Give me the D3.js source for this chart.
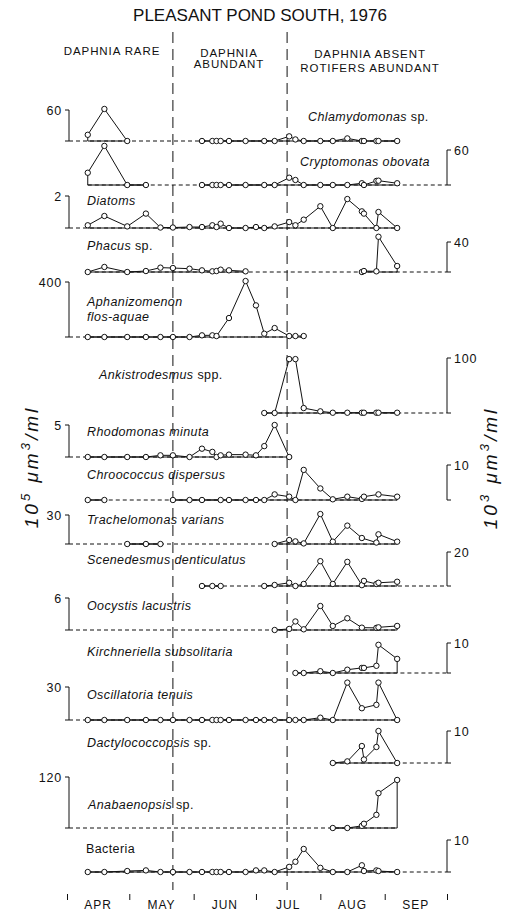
<!DOCTYPE html>
<html><head><meta charset="utf-8">
<script src="https://cdn.jsdelivr.net/npm/d3@7"></script>
<style>
body{margin:0;background:#fff}
svg{display:block}
text{font-family:"Liberation Sans",Arial,sans-serif;fill:#111}
</style>
</head><body>
<svg id="chart" width="505" height="913"></svg>
<script>
// ---------- DATA ----------
const title = "PLEASANT POND SOUTH, 1976";
const sampleDates = ["1976-04-11","1976-04-19","1976-04-30","1976-05-09","1976-05-16","1976-05-22","1976-05-30",
  "1976-06-05","1976-06-10","1976-06-12","1976-06-14","1976-06-18","1976-06-26","1976-07-01","1976-07-05",
  "1976-07-10","1976-07-17","1976-07-20","1976-07-24","1976-08-01","1976-08-07","1976-08-14","1976-08-21",
  "1976-08-22","1976-08-28","1976-08-29","1976-09-07"];
const monthLabels = ["APR","MAY","JUN","JUL","AUG","SEP"];
const monthStarts = ["1976-04-01","1976-05-01","1976-06-01","1976-07-01","1976-08-01","1976-09-01","1976-10-01"];
const phaseBreaks = ["1976-05-22","1976-07-16"];
const phaseLabels = [["DAPHNIA RARE"],["DAPHNIA","ABUNDANT"],["DAPHNIA ABSENT","ROTIFERS ABUNDANT"]];
const leftAxisLabel = ["10","5"," μm","3","/ml"];
const rightAxisLabel = ["10","3"," μm","3","/ml"];
const N = null;
// values per sample date (null = not sampled)
const chlamydomonas   = [12,62,0,N,N,N,N,0,0,0,0,0,0,N,0,0,9,3,0,0,0,5,0,0,0,0,0];
const cryptomonas     = [21,67,0,0,N,N,N,0,0,0,0,0,0,N,0,0,12.5,8.6,0,0,0,0,3,0,7,7.4,3];
const diatoms         = [0.17,0.75,0.1,0.9,0.03,0.03,0.06,0.06,0.17,0.06,0.27,0,0,0.06,0,0.1,0.37,0.17,0.52,1.36,0,1.81,1.04,0.9,0,1.0,0];
const phacus          = [0,6.7,0,1.3,5.8,5.3,4.4,2.2,0.9,1.3,3.1,2.2,0.9,N,N,N,N,N,N,N,N,N,0,1.3,0.9,47,8];
const aphanizomenon   = [0,0,0,0,0,0,0,12,12,7,N,138,407,230,24,65,7,7,7,N,N,N,N,N,N,N,N];
const ankistrodesmus  = [N,N,N,N,N,N,N,N,N,N,N,N,N,N,0,0,98,98,9,3,0.5,0.5,0.5,0.5,0.5,0.5,0.5];
const rhodomonas      = [0,0,0,0,0.26,0.26,0,1.3,0.8,0,0.26,0.37,0.37,0.26,1.7,5.0,0,N,N,N,N,N,N,N,N,N,N];
const chroococcus     = [0,0,N,N,N,0,0,0,N,N,0,0,0,0,0,1.6,0.95,0,8.6,3.3,0.2,0.95,0.3,0.95,N,1.6,0.95];
const trachelomonas   = [N,N,0,0,0,N,N,N,N,N,N,N,N,N,N,0,4.1,2.7,0.6,31,2.4,19,6.2,N,1.5,10,2.4];
const scenedesmus     = [N,N,N,N,N,N,N,0,0,N,0,N,N,N,0,0.6,1.9,0,1.2,14.6,1.2,14.2,0.5,3,1.2,1.9,2.5];
const oocystis        = [N,N,N,N,N,N,N,N,N,N,N,N,N,N,N,0,0.2,1.6,0.13,4.5,0.76,2.2,0.44,N,0.4,0.5,0.76];
const kirchneriella   = [N,N,N,N,N,N,N,N,N,N,N,N,N,N,N,N,N,0,0,0.6,0,1.1,1.7,1.7,2.4,9.4,4.7];
const oscillatoria    = [0,0,0,0,0,0,0,0,0,0,0,0,0,0,0,0,0,0,0,2.1,0,34,10.7,N,13.8,34,0];
const dactylococcopsis= [N,N,N,N,N,N,N,N,N,N,N,N,N,N,N,N,N,N,N,N,0,0.5,5.3,1.1,5.0,10,0];
const anabaenopsis    = [N,N,N,N,N,N,N,N,N,N,N,N,N,N,N,N,N,N,N,N,0,0,5,10,31,82,113];
const bacteria        = [0,0,0.3,0.5,0,0,0,0,0,0,0,0,0,0.5,0.5,0,1.6,3.2,7.2,1.3,0,0,2.1,0.3,0.5,0.3,0];
const seriesValues = [chlamydomonas,cryptomonas,diatoms,phacus,aphanizomenon,ankistrodesmus,rhodomonas,
  chroococcus,trachelomonas,scenedesmus,oocystis,kirchneriella,oscillatoria,dactylococcopsis,anabaenopsis,bacteria];
// [italic part, upright part, italic second line]
const speciesNames = [["Chlamydomonas"," sp.",""],["Cryptomonas obovata","",""],["Diatoms","",""],["Phacus"," sp.",""],
  ["Aphanizomenon","","flos-aquae"],["Ankistrodesmus"," spp.",""],["Rhodomonas minuta","",""],["Chroococcus dispersus","",""],
  ["Trachelomonas varians","",""],["Scenedesmus denticulatus","",""],["Oocystis lacustris","",""],
  ["Kirchneriella subsolitaria","",""],["Oscillatoria tenuis","",""],["Dactylococcopsis"," sp.",""],
  ["Anabaenopsis"," sp.",""],["","Bacteria",""]];
const scaleValues = [60,60,2,40,400,100,5,10,30,20,6,10,30,10,120,10];

// ---------- LAYOUT ----------
const panels = [
 {base:141, top:110, side:"L", lx:308, ly:121},
 {base:185, top:150, side:"R", lx:300, ly:166},
 {base:228, top:196, side:"L", lx:87, ly:205},
 {base:272, top:242, side:"R", lx:87, ly:250},
 {base:337, top:282, side:"L", lx:87, ly:306},
 {base:413, top:358, side:"R", lx:99, ly:379},
 {base:457, top:425, side:"L", lx:87, ly:436},
 {base:500, top:465, side:"R", lx:87, ly:479, noLink:true},
 {base:544, top:515, side:"L", lx:87, ly:524},
 {base:586, top:552, side:"R", lx:87, ly:564},
 {base:630, top:598, side:"L", lx:87, ly:610},
 {base:673, top:643, side:"R", lx:87, ly:656},
 {base:720, top:687, side:"L", lx:87, ly:699},
 {base:763, top:731, side:"R", lx:87, ly:747},
 {base:828, top:777, side:"L", lx:88, ly:809},
 {base:872, top:840, side:"R", lx:86, ly:853}
];

const parse = d3.timeParse("%Y-%m-%d");
const x = d3.scaleTime().domain([parse(monthStarts[0]), parse(monthStarts[monthStarts.length-1])]).range([67, 447]);
const svg = d3.select("#chart");
const ink = "#111";
const leftX = x.range()[0] + 2, rightX = x.range()[1];

// title
svg.append("text").attr("x", 260).attr("y", 21).attr("text-anchor","middle")
  .style("font-size","17px").text(title);

// phase boundaries
phaseBreaks.forEach(d => {
  svg.append("line").attr("x1", x(parse(d))).attr("x2", x(parse(d))).attr("y1", 32).attr("y2", 890)
    .attr("stroke", ink).attr("stroke-width", 1).attr("stroke-dasharray","11,6");
});
const phaseCenters = [112, 229, 370];
const phaseY = [[55],[56.5,68],[58,71.5]];
phaseLabels.forEach((lines,i) => lines.forEach((t,j) => {
  svg.append("text").attr("x", phaseCenters[i]).attr("y", phaseY[i][j]).attr("text-anchor","middle")
    .style("font-size","11.5px").style("letter-spacing","0.9px").text(t);
}));

// panels
const dayMs = 864e5;
panels.forEach((p,i) => {
  const y = d3.scaleLinear().domain([0, scaleValues[i]]).range([p.base, p.top]);
  const pts = sampleDates.map((d,k) => ({date: parse(d), v: seriesValues[i][k]})).filter(d => d.v !== null);
  const runs = [];
  let cur = [];
  pts.forEach(pt => {
    if (cur.length && (pt.date - cur[cur.length-1].date) > 15*dayMs) { runs.push(cur); cur = []; }
    cur.push(pt);
  });
  if (cur.length) runs.push(cur);
  const g = svg.append("g");
  // dashed baseline
  const xs = p.side === "L" ? leftX : x(pts[0].date);
  const xe = (p.side === "R" && !p.noLink) ? rightX : x(pts[pts.length-1].date);
  g.append("line").attr("x1", xs).attr("x2", xe).attr("y1", y(0)).attr("y2", y(0))
    .attr("stroke", ink).attr("stroke-width", 1).attr("stroke-dasharray","4,3");
  // bracket
  const bx = p.side === "L" ? leftX : rightX;
  const dir = p.side === "L" ? -4 : 4;
  g.append("path").attr("d", `M${bx+dir},${y(scaleValues[i])}H${bx}V${y(0)}H${bx+dir}`)
    .attr("fill","none").attr("stroke", ink).attr("stroke-width", 1);
  g.append("text").attr("x", p.side === "L" ? bx - 7 : bx + 7).attr("y", y(scaleValues[i]) + 4.5)
    .attr("text-anchor", p.side === "L" ? "end" : "start")
    .style("font-size","12.5px").style("letter-spacing","0.8px").text(scaleValues[i]);
  // data outlines
  const area = d3.area().x(d => x(d.date)).y0(y(0)).y1(d => y(d.v));
  runs.forEach(r => {
    g.append("path").attr("d", area(r)).attr("fill","none").attr("stroke", ink)
      .attr("stroke-width", 1).attr("stroke-linejoin","round");
  });
  g.selectAll("circle").data(pts).join("circle")
    .attr("cx", d => x(d.date)).attr("cy", d => y(d.v)).attr("r", 2.7)
    .attr("fill","#fff").attr("stroke", ink).attr("stroke-width", 1);
  // species label
  const nm = speciesNames[i];
  const t = g.append("text").attr("x", p.lx).attr("y", p.ly).style("font-size","12.5px").style("letter-spacing","0.4px");
  if (nm[0]) t.append("tspan").style("font-style","italic").text(nm[0]);
  if (nm[1]) t.append("tspan").text(nm[1]);
  if (nm[2]) g.append("text").attr("x", p.lx).attr("y", p.ly + 15).style("font-size","12.5px")
    .style("letter-spacing","0.4px").style("font-style","italic").text(nm[2]);
});

// bottom axis with month ticks
const axis = d3.axisBottom(x).tickValues(monthStarts.map(parse)).tickSize(-6).tickFormat("");
const ag = svg.append("g").attr("transform","translate(0,900)").call(axis);
ag.select(".domain").remove();
ag.selectAll(".tick line").attr("stroke", ink);
monthLabels.forEach((m,i) => {
  const a = parse(monthStarts[i]), b = parse(monthStarts[i+1]);
  svg.append("text").attr("x", x(new Date((a.getTime()+b.getTime())/2))).attr("y", 909)
    .attr("text-anchor","middle").style("font-size","12px").style("letter-spacing","1px").text(m);
});

// axis titles
function axisTitle(parts, tx, ty) {
  const t = svg.append("text").attr("transform", `translate(${tx},${ty}) rotate(-90)`)
    .attr("text-anchor","middle").style("font-size","19px").style("font-style","italic").style("letter-spacing","3px");
  t.append("tspan").text(parts[0]);
  t.append("tspan").attr("dy",-8).style("font-size","13px").text(parts[1]);
  t.append("tspan").attr("dy",8).text(parts[2]);
  t.append("tspan").attr("dy",-8).style("font-size","13px").text(parts[3]);
  t.append("tspan").attr("dy",8).text(parts[4]);
}
axisTitle(leftAxisLabel, 38, 467);
axisTitle(rightAxisLabel, 497, 468);
</script>
</body></html>
